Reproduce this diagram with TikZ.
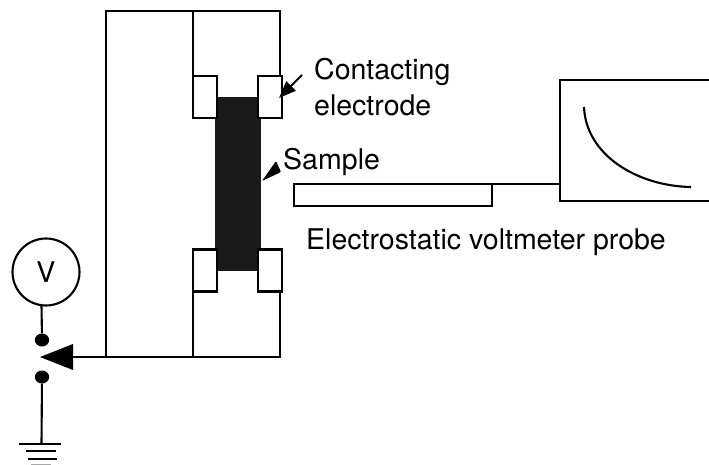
\documentclass[tikz,border=0pt]{standalone}
\usepackage{fontspec}
\setmainfont{TeX Gyre Heros}
\usetikzlibrary{arrows.meta}
\definecolor{samplegray}{HTML}{1A1A1A}
\tikzset{
  wire/.style={draw=black,line width=2.1pt},
  electrode/.style={draw=black,fill=white,line width=2.1pt,minimum width=24pt,minimum height=42pt,inner sep=0pt,outer sep=0pt},
  label/.style={anchor=base west,inner sep=0pt,font=\fontsize{28.5}{28.5}\selectfont},
  pointer/.style={draw=black,line width=2.1pt,-{Stealth[length=17pt,width=13pt,inset=0pt]}},
  contact/.style={circle,fill=black,inner sep=0pt,minimum size=13pt,xscale=1.1}
}
\begin{document}
\begin{tikzpicture}[x=1pt,y=-1pt]
\useasboundingbox (0,0) rectangle (709,465);

% sample and holder
\node[fill=samplegray,minimum width=46pt,minimum height=174pt,inner sep=0pt,outer sep=0pt] (sample) at (238,184) {};
\draw[wire,line cap=rect] (106,357) -- (106,11) -- (280,11) -- (280,76);
\draw[wire] (193,11) -- (193,76);
\draw[wire] (193,292) -- (193,357);
\draw[wire] (280,292) -- (280,357);
\node[electrode] (toplft) at (205,97) {};
\node[electrode] (toprgt) at (270,97) {};
\node[electrode] (botlft) at (205,270.5) {};
\node[electrode] (botrgt) at (270,270.5) {};

% voltmeter and switch
\node[draw=black,line width=2.1pt,circle,inner sep=0pt,minimum size=67pt,font=\fontsize{28.5}{28.5}\selectfont] (meter) at (46,272) {V};
\node[contact] (upper) at (42,340) {};
\node[contact] (lower) at (42,377) {};
\coordinate (frame) at (281,357);
\coordinate (tip) at (40,357);
\draw[wire] (41.5,305) -- (upper);
\draw[wire] (lower) -- (41.5,444);
\draw[wire] (frame) -- (73,357);
\fill[black] (tip) -- (73,344) -- (73,370) -- cycle;

% ground
\coordinate (gnd) at (41.5,444);
\draw[wire] (19,444) -- (61,444);
\draw[wire] (26,451) -- (56,451);
\draw[wire] (28,459) -- (57,459);
\draw[line width=1.6pt,black!35] (31,464.5) -- (51,464.5);

% probe and recorder
\node[draw=black,line width=2.1pt,minimum width=198pt,minimum height=22pt,inner sep=0pt,outer sep=0pt] (probe) at (393,195) {};
\coordinate (recorder) at (560,184);
\draw[wire] (probe.north east) -- (recorder);
\draw[wire] (709,80) -- (560,80) -- (560,201) -- (709,201);
\draw[wire] (584,107) .. controls (586,155) and (637,186) .. (691,187);

% labels
\node[label] (contacting) at (314,80) {Contacting};
\node[label] (electrodetxt) at (314,116) {electrode};
\node[label] (sampletxt) at (283,169.5) {Sample};
\node[label] (probetxt) at (306,249.5) {Electrostatic voltmeter probe};
\coordinate (contactend) at (302,75);
\coordinate (contacttip) at (279,98);
\draw[pointer] (contactend) -- (contacttip);
\fill[black,rounded corners=1pt] (262,181) -- (276,161) -- (281,172) -- cycle;
\end{tikzpicture}
\end{document}
